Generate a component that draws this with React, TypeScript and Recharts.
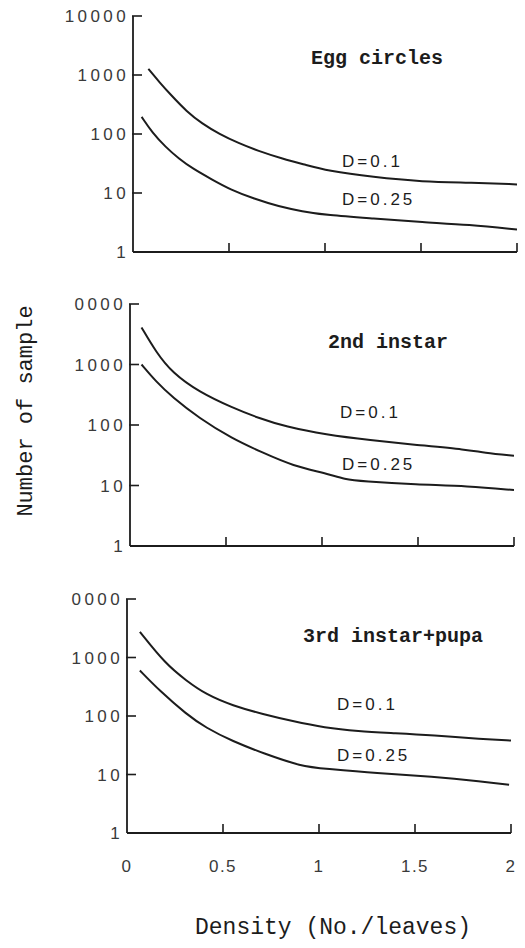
import React from 'react';
import { LineChart, Line, XAxis, YAxis } from 'recharts';

// ---- data ----
const xTicks = [0, 0.5, 1, 1.5, 2];
const xTickLabels = ['0', '0.5', '1', '1.5', '2'];
const yTicks = [1, 10, 100, 1000, 10000];
const yTickLabelsTop = ['1', '10', '100', '1000', '10000'];
const yTickLabelsLower = ['1', '10', '100', '1000', '0000'];

const panelTitles = ['Egg circles', '2nd instar', '3rd instar+pupa'];
const seriesNames = ['D=0.1', 'D=0.25'];
const xAxisTitle = 'Density (No./leaves)';
const yAxisTitle = 'Number of sample';

// Egg circles
const eggX01 = [0.08, 0.14, 0.2, 0.28, 0.36, 0.45, 0.55, 0.65, 0.78, 0.9, 1.01, 1.25, 1.51, 1.75, 2.0];
const eggY01 = [1270, 740, 450, 240, 150, 100, 70, 52, 38, 30, 24, 18.6, 15.5, 15, 14];
const eggX025 = [0.045, 0.1, 0.17, 0.24, 0.31, 0.41, 0.51, 0.63, 0.76, 0.88, 1.01, 1.25, 1.51, 1.75, 2.0];
const eggY025 = [195, 106, 60, 38, 26, 17, 11.3, 8, 5.9, 4.9, 4.2, 3.7, 3.2, 2.9, 2.4];

// 2nd instar
const in2X01 = [0.06, 0.136, 0.22, 0.36, 0.53, 0.67, 0.81, 1.02, 1.25, 1.49, 1.76, 1.84, 2.0];
const in2Y01 = [4100, 1600, 730, 350, 195, 130, 94, 69, 56, 47, 39, 35, 31];
const in2X025 = [0.06, 0.136, 0.22, 0.36, 0.53, 0.69, 0.85, 1.02, 1.12, 1.21, 1.49, 1.76, 2.0];
const in2Y025 = [1000, 520, 290, 130, 60, 35, 21, 16, 12.6, 11.8, 10.4, 9.8, 8.4];

// 3rd instar + pupa
const in3X01 = [0.067, 0.2, 0.31, 0.41, 0.55, 0.71, 0.86, 1.03, 1.2, 1.4, 1.59, 1.85, 2.0];
const in3Y01 = [2750, 780, 400, 235, 150, 107, 82, 63, 55, 51, 47, 40, 38];
const in3X025 = [0.067, 0.17, 0.31, 0.41, 0.55, 0.71, 0.91, 1.03, 1.3, 1.59, 1.85, 1.99];
const in3Y025 = [600, 270, 107, 63, 37, 23, 13.7, 12.6, 10.5, 9.2, 7.6, 6.7];

const toPts = (xs: number[], ys: number[]) => xs.map((x, i) => ({ x, y: ys[i] }));

const INK = '#1c1c1c';
const TXT = '#3a3a3a';
const Y_MARGIN = 6;
const X_MARGIN = 0;

const makeYTick = (labels: string[]) => (props: any) => {
  const { x, y, payload } = props;
  const idx = yTicks.indexOf(payload.value);
  const axisX = x + Y_MARGIN;
  return (
    <g>
      {payload.value !== 1 && (
        <line x1={axisX - 1} x2={axisX + 9} y1={y} y2={y} stroke={INK} strokeWidth={1.6} />
      )}
      <text
        x={axisX - 4}
        y={y}
        dy="0.36em"
        textAnchor="end"
        fontFamily="'Liberation Sans', Arial, sans-serif"
        fontSize={17}
        letterSpacing={3.4}
        fill={TXT}
      >
        {labels[idx]}
      </text>
    </g>
  );
};

const makeXTick = (showLabels: boolean) => (props: any) => {
  const { x, y, payload } = props;
  const idx = xTicks.indexOf(payload.value);
  const axisY = y - X_MARGIN;
  return (
    <g>
      {payload.value !== 0 && (
        <line x1={x} x2={x} y1={axisY} y2={axisY - 9} stroke={INK} strokeWidth={1.6} />
      )}
      {showLabels && (
        <text
          x={x}
          y={axisY + 39}
          textAnchor="middle"
          fontFamily="'Liberation Sans', Arial, sans-serif"
          fontSize={17}
          letterSpacing={1.5}
          fill={TXT}
        >
          {xTickLabels[idx]}
        </text>
      )}
    </g>
  );
};

type PanelProps = {
  top: number;
  height: number;
  margin: { top: number; right: number; left: number; bottom: number };
  xAxisHeight: number;
  s01: { x: number; y: number }[];
  s025: { x: number; y: number }[];
  yLabels: string[];
  showX: boolean;
};

const Panel = ({ top, height, margin, xAxisHeight, s01, s025, yLabels, showX }: PanelProps) => (
  <div style={{ position: 'absolute', left: 0, top, width: 525, height }}>
    <LineChart width={525} height={height} margin={margin}>
      <XAxis
        dataKey="x"
        type="number"
        domain={[0, 2]}
        ticks={xTicks}
        allowDataOverflow
        height={xAxisHeight}
        tickSize={0}
        tickMargin={X_MARGIN}
        tickLine={false}
        axisLine={{ stroke: INK, strokeWidth: 1.8 }}
        tick={makeXTick(showX)}
        interval={0}
      />
      <YAxis
        dataKey="y"
        type="number"
        scale="log"
        domain={[1, 10000]}
        ticks={yTicks}
        allowDataOverflow
        width={60}
        tickSize={0}
        tickMargin={Y_MARGIN}
        tickLine={false}
        axisLine={{ stroke: INK, strokeWidth: 1.8 }}
        tick={makeYTick(yLabels)}
        interval={0}
      />
      <Line
        data={s01}
        dataKey="y"
        type="basis"
        stroke={INK}
        strokeWidth={2}
        dot={false}
        isAnimationActive={false}
        name={seriesNames[0]}
      />
      <Line
        data={s025}
        dataKey="y"
        type="basis"
        stroke={INK}
        strokeWidth={2}
        dot={false}
        isAnimationActive={false}
        name={seriesNames[1]}
      />
    </LineChart>
  </div>
);

const MONO = "'Liberation Mono', 'DejaVu Sans Mono', monospace";
const SANS = "'Liberation Sans', Arial, sans-serif";

export default function App() {
  return (
    <div
      style={{
        position: 'absolute',
        left: 0,
        top: 0,
        width: 525,
        height: 948,
        background: '#ffffff',
        overflow: 'hidden',
      }}
    >
      <Panel
        top={0}
        height={270}
        margin={{ top: 16, right: 8, left: 73, bottom: 8 }}
        xAxisHeight={10}
        s01={toPts(eggX01, eggY01)}
        s025={toPts(eggX025, eggY025)}
        yLabels={yTickLabelsTop}
        showX={false}
      />
      <Panel
        top={280}
        height={280}
        margin={{ top: 24, right: 11, left: 70, bottom: 4 }}
        xAxisHeight={10}
        s01={toPts(in2X01, in2Y01)}
        s025={toPts(in2X025, in2Y025)}
        yLabels={yTickLabelsLower}
        showX={false}
      />
      <Panel
        top={580}
        height={368}
        margin={{ top: 19, right: 14, left: 67, bottom: 75 }}
        xAxisHeight={40}
        s01={toPts(in3X01, in3Y01)}
        s025={toPts(in3X025, in3Y025)}
        yLabels={yTickLabelsLower}
        showX={true}
      />
      <svg
        width={525}
        height={948}
        style={{ position: 'absolute', left: 0, top: 0, pointerEvents: 'none' }}
      >
        <g fill={INK} fontFamily={MONO} fontWeight="bold" fontSize={20}>
          <text x={311} y={64}>{panelTitles[0]}</text>
          <text x={328} y={348}>{panelTitles[1]}</text>
          <text x={303} y={642}>{panelTitles[2]}</text>
        </g>
        <g fill={INK} fontFamily={SANS} fontSize={17} letterSpacing={3}>
          <text x={342} y={167}>{seriesNames[0]}</text>
          <text x={342} y={205}>{seriesNames[1]}</text>
          <text x={340} y={418}>{seriesNames[0]}</text>
          <text x={342} y={470}>{seriesNames[1]}</text>
          <text x={337} y={710}>{seriesNames[0]}</text>
          <text x={337} y={761}>{seriesNames[1]}</text>
        </g>
        <text
          x={333}
          y={934}
          textAnchor="middle"
          fontFamily={MONO}
          fontSize={23}
          fill={INK}
        >
          {xAxisTitle}
        </text>
        <text
          x={32}
          y={411}
          textAnchor="middle"
          transform="rotate(-90 32 411)"
          fontFamily={MONO}
          fontSize={22}
          fill={INK}
        >
          {yAxisTitle}
        </text>
      </svg>
    </div>
  );
}
